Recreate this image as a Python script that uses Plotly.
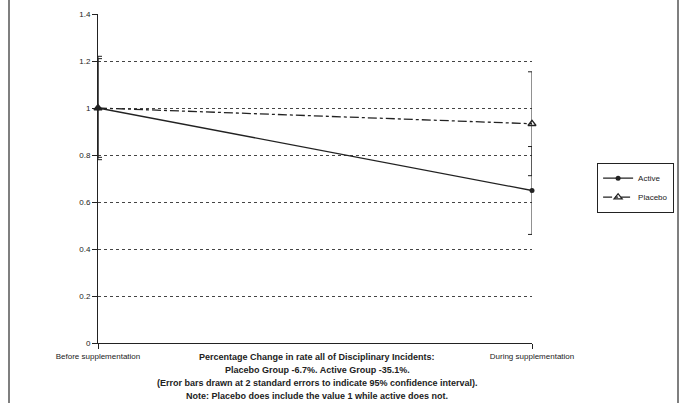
import plotly.graph_objects as go

categories = ["Before supplementation", "During supplementation"]
active = [1.0, 0.649]
active_err = [0.21, 0.187]
placebo = [1.0, 0.933]
placebo_err = [0.22, 0.221]
y_ticks = [0, 0.2, 0.4, 0.6, 0.8, 1, 1.2, 1.4]
y_ticklabels = ["0", "0.2", "0.4", "0.6", "0.8", "1", "1.2", "1.4"]
notes = [
    "Percentage Change in rate all of Disciplinary Incidents:",
    "Placebo Group -6.7%. Active Group -35.1%.",
    "(Error bars drawn at 2 standard errors to indicate 95% confidence interval).",
    "Note: Placebo does include the value 1 while active does not.",
]

xpos = list(range(len(categories)))
ink = "#222222"
font_family = "Liberation Sans, Arial, sans-serif"

fig = go.Figure()
fig.add_trace(go.Scatter(
    x=xpos, y=active, name="Active", mode="lines+markers",
    line=dict(color=ink, width=1.3),
    marker=dict(symbol="circle", size=5, color=ink),
    error_y=dict(type="data", array=active_err, color=ink, thickness=1, width=4),
    cliponaxis=False,
))
fig.add_trace(go.Scatter(
    x=xpos, y=placebo, name="Placebo", mode="lines+markers",
    line=dict(color=ink, width=1.3, dash="dashdot"),
    marker=dict(symbol="triangle-up-open", size=7, color=ink, line=dict(width=1.3)),
    error_y=dict(type="data", array=placebo_err, color=ink, thickness=1, width=4),
    cliponaxis=False,
))

fig.update_layout(
    width=684, height=403,
    margin=dict(l=98, r=152, t=14, b=60, autoexpand=False),
    paper_bgcolor="white", plot_bgcolor="white",
    font=dict(family=font_family, size=8, color=ink),
    showlegend=True,
    legend=dict(
        x=1.15, y=0.548, xanchor="left", yanchor="top",
        bordercolor=ink, borderwidth=1, bgcolor="white",
        font=dict(size=8), itemwidth=30, tracegroupgap=0,
    ),
    xaxis=dict(
        range=[0, 1], tickvals=xpos, ticktext=categories, automargin=False,
        showgrid=False, zeroline=False, showline=True, linecolor=ink, linewidth=1,
        ticks="outside", ticklen=5, tickcolor=ink, tickfont=dict(size=8),
    ),
    yaxis=dict(
        range=[0, 1.4], tickvals=y_ticks, ticktext=y_ticklabels, automargin=False,
        showgrid=True, gridcolor="#444444", griddash="dot", gridwidth=1,
        zeroline=False, showline=True, linecolor=ink, linewidth=1,
        ticks="outside", ticklen=5, tickcolor=ink, tickfont=dict(size=8),
    ),
)

ys_px = [357, 370, 383, 396]
for txt, ypx in zip(notes, ys_px):
    fig.add_annotation(
        text="<b>" + txt + "</b>", xref="paper", yref="paper",
        x=(317 - 98) / 434, y=(343 - ypx) / 329,
        showarrow=False, xanchor="center", yanchor="middle",
        font=dict(size=9, color=ink),
    )

# outer frame lines
for xp in [(9 - 98) / 434, (678 - 98) / 434]:
    fig.add_shape(type="line", xref="paper", yref="paper",
                  x0=xp, x1=xp, y0=(343 - 403) / 329, y1=(343 + 2) / 329,
                  line=dict(color="#555555", width=1.5))

fig.write_html(
    "out.html",
    config={"displayModeBar": False},
    post_script="document.body.style.margin='0';document.body.style.overflow='hidden';",
)
